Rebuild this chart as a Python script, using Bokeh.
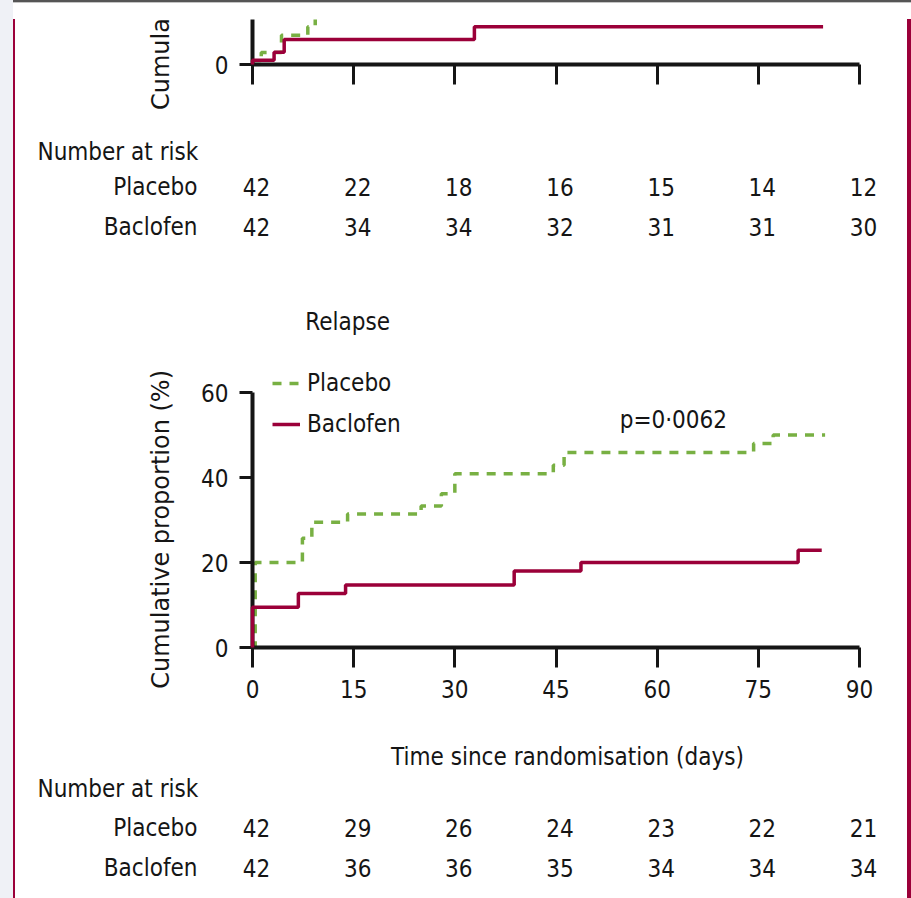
import math
from bokeh.plotting import figure
from bokeh.models import Range1d, FixedTicker, Label, Legend, LegendItem, Div
from bokeh.layouts import row, column
from bokeh.embed import file_html
from bokeh.resources import INLINE
from bokeh.core.properties import value

# ----------------------------- data -----------------------------
time_ticks = [0, 15, 30, 45, 60, 75, 90]
prop_ticks = [0, 20, 40, 60]
groups = ["Placebo", "Baclofen"]

# upper panel (cut off at the top of the page) - cumulative proportion (%)
top_placebo_t = [0, 1.3, 4.3, 8.2, 9.3]
top_placebo_v = [0, 2.8, 6.9, 8.9, 12.0]
top_placebo_end = 10.0
top_baclofen_t = [0, 0, 3.2, 4.7, 32.9]
top_baclofen_v = [0, 1.0, 2.9, 5.9, 8.9]
top_baclofen_end = 84.6
top_risk_placebo = [42, 22, 18, 16, 15, 14, 12]
top_risk_baclofen = [42, 34, 34, 32, 31, 31, 30]

# relapse panel - cumulative proportion (%)
relapse_placebo_t = [0, 0.4, 7.4, 8.8, 14.1, 25.0, 28.0, 30.0, 44.6, 46.2, 74.3, 77.2]
relapse_placebo_v = [0, 20.0, 25.7, 29.5, 31.4, 33.3, 36.2, 40.9, 42.9, 45.9, 48.0, 50.0]
relapse_placebo_end = 84.9
relapse_baclofen_t = [0, 0, 6.8, 13.8, 38.8, 48.7, 80.9]
relapse_baclofen_v = [0, 9.5, 12.7, 14.7, 18.0, 20.0, 22.9]
relapse_baclofen_end = 84.4
relapse_risk_placebo = [42, 29, 26, 24, 23, 22, 21]
relapse_risk_baclofen = [42, 36, 36, 35, 34, 34, 34]

panel_title = "Relapse"
p_value_text = "p=0\u00b70062"
y_title = "Cumulative proportion (%)"
x_title = "Time since randomisation (days)"
risk_title = "Number at risk"

# ----------------------------- style -----------------------------
FONT = "DejaVu Sans Condensed"
FONT_Y = "DejaVu Sans"
FS = "24px"
INK = "#151515"
GREEN = "#78b043"
RED = "#9b0039"
LAVENDER = "#eff1f6"

W = 892            # content width (page x 15 .. 907)
LAB_W = 170        # width of the y-title strip
LEFT = 237         # page distance from content edge to the y axis
PLOT_W = W - LAB_W
PLOT_LEFT = LEFT - LAB_W
RIGHT = 48
PX_PER_DAY = (W - LEFT - RIGHT) / 90.0
PX_PER_PCT = 4.25


def base_figure(width, height, x_range, y_range, **kw):
    p = figure(width=width, height=height, x_range=x_range, y_range=y_range,
               output_backend="svg", toolbar_location=None, frame_align=False, **kw)
    p.grid.visible = False
    p.outline_line_color = None
    p.background_fill_color = "white"
    p.border_fill_color = "white"
    return p


def style_axes(p, show_x_labels=True):
    xa = p.xaxis[0]
    ya = p.yaxis[0]
    xa.ticker = FixedTicker(ticks=time_ticks)
    ya.ticker = FixedTicker(ticks=prop_ticks)
    for ax in (xa, ya):
        ax.axis_line_width = 4
        ax.axis_line_color = INK
        ax.major_tick_line_width = 3
        ax.major_tick_line_color = INK
        ax.major_tick_in = 0
        ax.minor_tick_line_color = None
        ax.major_label_text_font = FONT
        ax.major_label_text_font_size = FS
        ax.major_label_text_color = INK
    xa.major_tick_out = 20
    ya.major_tick_out = 13
    xa.major_label_standoff = 12
    ya.major_label_standoff = 11
    if not show_x_labels:
        xa.major_label_text_color = None


def title_strip(height, frame_bottom_px, y_end, y_center):
    """Strip left of a plot carrying the rotated y title, on the plot's own y scale."""
    p = base_figure(LAB_W, height, Range1d(0, LAB_W),
                    Range1d(-frame_bottom_px / PX_PER_PCT, y_end),
                    x_axis_location=None, y_axis_location=None, min_border=0)
    p.text(x=[145], y=[y_center], text=[y_title], angle=math.pi / 2,
           text_font=value(FONT_Y), text_font_size=FS, text_color=INK,
           text_align="center", text_baseline="middle")
    return p


def steps(p, t, v, end, color, dash=None):
    kw = dict(line_color=color, line_width=3.5, mode="after")
    if dash:
        kw["line_dash"] = dash
    return p.step(x=t + [end], y=v + [v[-1]], **kw)


# ----------------------------- upper (cut) panel -----------------------------
TOP_H = 111
TOP_BOTTOM = 66
top_y_end = (TOP_H - TOP_BOTTOM) / PX_PER_PCT
top = base_figure(PLOT_W, TOP_H, Range1d(0, 90), Range1d(0, top_y_end),
                  min_border_left=PLOT_LEFT, min_border_right=RIGHT,
                  min_border_top=0, min_border_bottom=TOP_BOTTOM)
style_axes(top, show_x_labels=False)
steps(top, top_placebo_t, top_placebo_v, top_placebo_end, GREEN, "9 8")
rb = steps(top, top_baclofen_t, top_baclofen_v, top_baclofen_end, RED)
rb.level = "overlay"
top_strip = title_strip(TOP_H, TOP_BOTTOM, top_y_end, 26.8)


# ----------------------------- risk tables -----------------------------
def risk_table(height, header_px, rows_px, placebo_counts, baclofen_counts, extra=None):
    x0 = -LEFT / PX_PER_DAY
    x1 = (W - LEFT) / PX_PER_DAY
    p = base_figure(W, height, Range1d(x0, x1), Range1d(height, 0),
                    x_axis_location=None, y_axis_location=None, min_border=0)
    common = dict(text_font=value(FONT), text_font_size=FS, text_color=INK,
                  text_baseline="middle")
    if extra is not None:
        xt, yt, tt = extra
        p.text(x=[xt], y=[yt], text=[tt], text_align="center", **common)
    p.text(x=[x0 + 22 / PX_PER_DAY], y=[header_px], text=[risk_title], text_align="left", **common)
    p.text(x=[x0 + 182 / PX_PER_DAY] * 2, y=rows_px, text=groups, text_align="right", **common)
    xs = time_ticks + time_ticks
    ys = [rows_px[0]] * len(placebo_counts) + [rows_px[1]] * len(baclofen_counts)
    txt = [str(n) for n in placebo_counts + baclofen_counts]
    p.text(x=xs, y=ys, text=txt, text_align="center", x_offset=4, **common)
    return p


table1 = risk_table(120, 21, [56, 96], top_risk_placebo, top_risk_baclofen)

# ----------------------------- relapse panel -----------------------------
MAIN_H = 480
MAIN_BOTTOM = 83
main_y_end = (MAIN_H - MAIN_BOTTOM) / PX_PER_PCT
main = base_figure(PLOT_W, MAIN_H, Range1d(0, 90), Range1d(0, main_y_end),
                   min_border_left=PLOT_LEFT, min_border_right=RIGHT,
                   min_border_top=0, min_border_bottom=MAIN_BOTTOM)
style_axes(main)
main.yaxis[0].bounds = (0, 60)
r_pl = steps(main, relapse_placebo_t, relapse_placebo_v, relapse_placebo_end, GREEN, "9 8")
r_ba = steps(main, relapse_baclofen_t, relapse_baclofen_v, relapse_baclofen_end, RED)
r_ba.level = "overlay"

legend = Legend(items=[LegendItem(label=groups[0], renderers=[r_pl]),
                       LegendItem(label=groups[1], renderers=[r_ba])],
                location=(20, 209), orientation="vertical",
                border_line_color=None, background_fill_alpha=0,
                label_text_font=FONT, label_text_font_size=FS, label_text_color=INK,
                glyph_width=28, glyph_height=20, label_height=20, label_standoff=7,
                padding=0, margin=0, spacing=13)
main.add_layout(legend)

main.add_layout(Label(x=14.1, y=76.7, text=panel_title, text_font=FONT, text_font_size=FS,
                      text_color=INK, text_align="center", text_baseline="middle"))
main.add_layout(Label(x=62.4, y=53.6, text=p_value_text, text_font=FONT, text_font_size=FS,
                      text_color=INK, text_align="center", text_baseline="middle"))
main_strip = title_strip(MAIN_H, MAIN_BOTTOM, main_y_end, 27.8)

table2 = risk_table(168, 58, [97, 137], relapse_risk_placebo, relapse_risk_baclofen,
                    extra=(46.7, 26, x_title))

# ----------------------------- page frame -----------------------------
strip = Div(text="", width=13, height=898, margin=(0, 0, 0, 0),
            styles={"background-color": LAVENDER})
header = Div(text="", width=898, height=19, margin=(0, 0, 0, 0),
             styles={"background": "linear-gradient(#555 0px, #555 2px, #c4c4c4 2px, #c4c4c4 3px, #ffffff 3px)"})
left_rule = Div(text="", width=2, height=879, margin=(0, 0, 0, 0),
                styles={"background-color": RED})
right_rule = Div(text="", width=4, height=879, margin=(0, 0, 0, 0),
                 styles={"background-color": RED})

content = column(row(top_strip, top, spacing=0), table1,
                 row(main_strip, main, spacing=0), table2, spacing=0)
page = row(strip, column(header, row(left_rule, content, right_rule, spacing=0), spacing=0), spacing=0)

open("out.html", "w").write(file_html(page, INLINE))
